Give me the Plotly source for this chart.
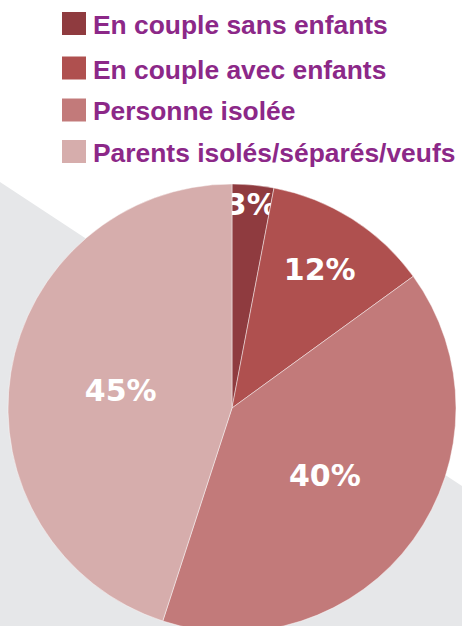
import plotly.graph_objects as go

labels = ["En couple sans enfants", "En couple avec enfants", "Personne isolée", "Parents isolés/séparés/veufs"]
values = [3, 12, 40, 45]
colors = ["#8F3B3F", "#AF504F", "#C27A7A", "#D6ADAC"]

W, H = 462, 632  # pie runs slightly past the bottom edge of the 626px window
legend_font = "Liberation Sans, Arial, sans-serif"
text_color = "#8C2888"

fig = go.Figure()
fig.add_trace(go.Pie(
    labels=labels,
    values=values,
    marker=dict(colors=colors, line=dict(color="rgba(255,255,255,0.45)", width=1)),
    sort=False,
    direction="clockwise",
    rotation=0,
    texttemplate="%{value}%",
    textposition="inside",
    insidetextorientation="horizontal",
    textfont=dict(family="DejaVu Sans", size=30, color="white", weight="bold"),
    showlegend=False,
    hoverinfo="label+percent",
    domain=dict(x=[8 / W, 456 / W], y=[0, 1 - 184 / H]),
))

# grey diagonal band behind the pie
fig.add_shape(type="path", xref="paper", yref="paper", layer="below",
              path=f"M 0 {1-182/H} L 1 {1-486/H} L 1 0 L 0 0 Z",
              fillcolor="#E6E7E9", line=dict(width=0))

# custom legend built from labels/colors
row_y = [23.5, 68, 110, 151.5]
for lab, col, yc in zip(labels, colors, row_y):
    fig.add_shape(type="rect", xref="paper", yref="paper",
                  x0=62 / W, x1=86 / W, y0=1 - (yc - 11.5) / H, y1=1 - (yc + 11.5) / H,
                  fillcolor=col, line=dict(width=0))
    fig.add_annotation(x=91 / W, y=1 - (yc + 1.5) / H, xref="paper", yref="paper",
                       xanchor="left", yanchor="middle", showarrow=False,
                       text=lab, font=dict(family=legend_font, size=26.4, color=text_color, weight="bold"))

fig.update_layout(
    width=W, height=H,
    margin=dict(l=0, r=0, t=0, b=0),
    paper_bgcolor="white",
    plot_bgcolor="white",
    uniformtext=dict(minsize=30, mode="show"),
)

fig.write_html("out.html",
               config={"displayModeBar": False},
               post_script="document.body.style.margin='0';document.body.style.overflow='hidden';")
